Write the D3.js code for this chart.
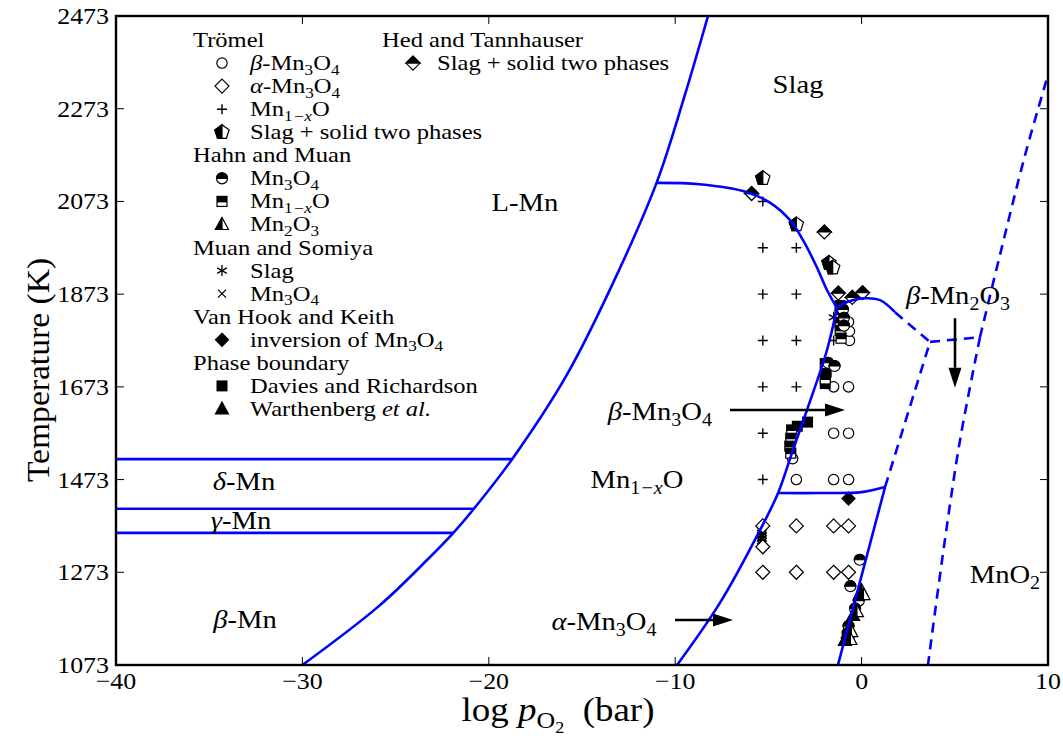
<!DOCTYPE html>
<html><head><meta charset="utf-8">
<script src="https://cdn.jsdelivr.net/npm/d3@7"></script>
<style>body{margin:0;background:#fff} text,tspan{font-family:"Liberation Serif","DejaVu Serif",serif;fill:#000}</style>
</head><body><svg id="c" width="1063" height="740"></svg>
<script>
// ---------- axes ----------
const xTicks = [-40,-30,-20,-10,0,10];
const yTicks = [1073,1273,1473,1673,1873,2073,2273,2473];

// ---------- phase boundaries [log pO2, T] ----------
const mnMnOBoundary = [[-30.0,1073],[-25.9,1200],[-23.3,1300],[-21.9,1358],[-20.8,1410],[-18.75,1517],[-15.8,1700],[-13.3,1900],[-11.0,2113],[-9.5,2300],[-8.24,2473]];
const deltaLiquidLine = [[-40,1517],[-18.75,1517]];
const gammaDeltaLine = [[-40,1410],[-20.8,1410]];
const betaGammaLine = [[-40,1358],[-21.9,1358]];
const lMnSlagBoundary = [[-10.98,2113],[-8.7,2110],[-6.15,2093],[-4.9,2070],[-3.85,2033],[-3.15,1990],[-2.4,1931],[-1.86,1882],[-1.32,1843]];
const mnOMn3O4Boundary = [[-1.32,1843],[-1.86,1752],[-2.93,1623],[-3.68,1537],[-4.48,1444],[-5.45,1364],[-7.6,1207],[-9.9,1073]];
const alphaBetaMn3O4 = [[-4.48,1444],[-2.2,1444],[0,1446],[1.26,1457]];
const mn3O4Mn2O3Boundary = [[-1.27,1073],[1.26,1457]];
const slagMn3O4Boundary = [[-1.32,1843],[-0.78,1856],[0.08,1864],[0.99,1860],[1.79,1834]];
// dashed (estimated) boundaries
const slagMn2O3Dashed = [[1.79,1834],[3.67,1770]];
const mn2O3TopDashed = [[3.67,1770],[6.35,1780]];
const slagMnO2Dashed = [[6.35,1780],[7.42,1957],[8.77,2173],[10,2346]];
const mnO2Mn2O3Dashed = [[6.35,1780],[5.28,1558],[4.47,1343],[3.56,1073]];
const mn3O4Mn2O3Dashed = [[1.26,1457],[3.67,1770]];

// ---------- experimental points [log pO2, T] ----------
const tromelBetaMn3O4 = [[-1.5,1673],[-0.7,1673],[-1.5,1573],[-0.7,1573],[-3.5,1473],[-1.5,1473],[-0.7,1473],[-0.65,1773],[-0.65,1793],[-0.7,1813],[-3.7,1518]];
const tromelAlphaMn3O4 = [[-3.5,1373],[-1.5,1373],[-0.7,1373],[-5.3,1373],[-5.3,1328],[-5.3,1273],[-3.5,1273],[-1.5,1273],[-0.7,1273]];
const tromelMn1xO = [[-5.3,2073],[-5.3,1973],[-3.5,1973],[-5.3,1873],[-3.5,1873],[-5.3,1773],[-3.5,1773],[-1.5,1773],[-5.3,1673],[-3.5,1673],[-5.3,1573],[-5.3,1473]];
const tromelSlagSolid = [[-5.3,2123],[-3.5,2023],[-1.75,1940],[-1.55,1930]];
const hahnMn3O4 = [[-0.1,1300],[-0.6,1243],[-0.15,1212],[-0.35,1195],[-0.7,1157],[-0.75,1142],[-1.0,1840],[-0.95,1822],[-0.95,1805],[-1.8,1725],[-1.45,1718]];
const hahnMn1xO = [[-3.75,1580],[-3.8,1562],[-3.85,1545],[-3.8,1530],[-1.95,1723],[-1.95,1690],[-1.15,1848],[-1.15,1830],[-1.15,1812],[-1.15,1795],[-1.1,1778]];
const hahnMn2O3 = [[0.0,1233],[0.1,1225],[-0.25,1188],[-0.55,1145],[-0.6,1128]];
const muanSlag = [[-5.35,1334],[-5.35,1340],[-5.35,1346],[-5.35,1352],[-5.35,1358],[-5.35,1364],[-1.5,1823]];
const muanMn3O4 = [[-5.35,1337],[-5.35,1343],[-5.35,1349],[-5.35,1355],[-5.35,1361],[-5.35,1367]];
const vanHookInversion = [[-0.7,1432]];
const hedSlagSolid = [[-5.9,2090],[-2.0,2007],[-1.25,1875],[-0.5,1866],[0.05,1876]];
const daviesBoundary = [[-2.9,1597],[-3.45,1588],[-1.95,1680],[-1.9,1705]];
const warthBoundary = [[-0.1,1225],[-0.45,1180],[-0.75,1142],[-0.9,1126]];

// ---------- annotations ----------
const regionLabels = [
  ["Slag",-3.41,2324],["L-Mn",-18.06,2070],["*β*-Mn_{2}O_{3}",5.17,1869],
  ["*β*-Mn_{3}O_{4}",-10.82,1619],["Mn_{1*−x*}O",-12.05,1472],["*δ*-Mn",-33.13,1468],
  ["*γ*-Mn",-33.29,1384],["*β*-Mn",-33.08,1170],["*α*-Mn_{3}O_{4}",-13.82,1166],["MnO_{2}",7.69,1267]
];
const arrows = [[5.01,1821,5.01,1671],[-7.06,1623,-0.89,1623],[-10.01,1170,-6.9,1170]];

const legendCol1 = [
  {title:"Trömel"},{m:"circle",t:"*β*-Mn_{3}O_{4}"},{m:"diamond",t:"*α*-Mn_{3}O_{4}"},{m:"plus",t:"Mn_{1*−x*}O"},{m:"pentHalf",t:"Slag + solid two phases"},
  {title:"Hahn and Muan"},{m:"circleTop",t:"Mn_{3}O_{4}"},{m:"squareTop",t:"Mn_{1*−x*}O"},{m:"triLeft",t:"Mn_{2}O_{3}"},
  {title:"Muan and Somiya"},{m:"asterisk",t:"Slag"},{m:"cross",t:"Mn_{3}O_{4}"},
  {title:"Van Hook and Keith"},{m:"diamondFilled",t:"inversion of Mn_{3}O_{4}"},
  {title:"Phase boundary"},{m:"square",t:"Davies and Richardson"},{m:"triangle",t:"Warthenberg *et al.*"}
];
const legendCol2 = [{title:"Hed and Tannhauser"},{m:"diamondTop",t:"Slag + solid two phases"}];

// ---------- drawing ----------
const FONT = "Liberation Serif, DejaVu Serif, serif";
const svg = d3.select("#c");
const X = d3.scaleLinear().domain([-40,10]).range([116,1048]);
const Y = d3.scaleLinear().domain([1073,2473]).range([665,16]);
const fmt = v => (v<0?"−":"")+Math.abs(v);

function parseRich(s){
  const segs=[]; let lvl=0, it=false, buf="";
  function flush(){ if(buf){segs.push({t:buf,it,lvl}); buf="";} }
  for(let i=0;i<s.length;i++){
    const c=s[i];
    if(c==="*"){flush(); it=!it;}
    else if(c==="_" && s[i+1]==="{"){flush(); lvl++; i++;}
    else if(c==="}" && lvl>0){flush(); lvl--;}
    else buf+=c;
  }
  flush(); return segs;
}
// rich text: x,y baseline position, f font size, sx horizontal stretch, optional rotation
function rich(parent, x, y, s, f, anchor, sx, rot){
  const t = parent.append("text").attr("x",0).attr("y",0)
    .attr("transform",`translate(${x},${y})${rot?` rotate(${rot})`:""} scale(${sx||1},1)`)
    .attr("font-size",f).attr("font-family",FONT).attr("text-anchor",anchor||"start");
  let cur=0;
  const off = l => l===0?0:(l===1?0.22*f:0.22*f+0.14*f);
  parseRich(s).forEach(sg=>{
    const o=off(sg.lvl);
    t.append("tspan").attr("dy",o-cur).attr("font-family",FONT).attr("font-size",f*Math.pow(0.7,sg.lvl)).attr("font-style",sg.it?"italic":"normal").text(sg.t);
    cur=o;
  });
  return t;
}

function marker(g,type){
  const W="#fff",B="#000",sw=1.2;
  const shape=(d,fill)=>g.append("path").attr("d",d).attr("fill",fill).attr("stroke",B).attr("stroke-width",sw).attr("stroke-linejoin","miter");
  switch(type){
    case "circle": g.append("circle").attr("r",5.2).attr("fill",W).attr("stroke",B).attr("stroke-width",sw); break;
    case "diamond": shape("M0,-7L7,0L0,7L-7,0Z",W); break;
    case "diamondFilled": shape("M0,-6.5L6.5,0L0,6.5L-6.5,0Z",B); break;
    case "diamondTop": shape("M0,-7L7,0L0,7L-7,0Z",W); shape("M-7,0L0,-7L7,0Z",B); break;
    case "plus": g.append("path").attr("d","M-5,0H5M0,-5V5").attr("stroke",B).attr("stroke-width",1.4); break;
    case "cross": g.append("path").attr("d","M-4,-4L4,4M-4,4L4,-4").attr("stroke",B).attr("stroke-width",1.3); break;
    case "asterisk": g.append("path").attr("d","M0,-5.5V5.5M-4.8,-2.75L4.8,2.75M-4.8,2.75L4.8,-2.75").attr("stroke",B).attr("stroke-width",1.3); break;
    case "circleTop": g.append("circle").attr("r",5.5).attr("fill",W).attr("stroke",B).attr("stroke-width",sw); shape("M-5.5,0A5.5,5.5 0 0 1 5.5,0Z",B); break;
    case "squareTop": g.append("rect").attr("x",-5).attr("y",-5).attr("width",10).attr("height",10).attr("fill",W).attr("stroke",B).attr("stroke-width",sw);
                      g.append("rect").attr("x",-5).attr("y",-5).attr("width",10).attr("height",6).attr("fill",B); break;
    case "square": g.append("rect").attr("x",-5.5).attr("y",-5.5).attr("width",11).attr("height",11).attr("fill",B); break;
    case "triangle": shape("M0,-7L6.5,5L-6.5,5Z",B); break;
    case "triLeft": shape("M0,-7L6.5,5L-6.5,5Z",W); shape("M0,-7L-6.5,5L0,5Z",B); break;
    case "pentHalf": {
      const r=7.5, p=[-90,-18,54,126,198].map(a=>[r*Math.cos(a*Math.PI/180), r*Math.sin(a*Math.PI/180)]);
      shape("M"+p.map(q=>q.join(",")).join("L")+"Z",W);
      shape(`M${p[0]}L${p[4]}L${p[3]}L0,${p[3][1]}Z`,B); break;
    }
  }
}

// clip
svg.append("clipPath").attr("id","clip").append("rect").attr("x",116).attr("y",16).attr("width",932).attr("height",649);
const plot = svg.append("g").attr("clip-path","url(#clip)");

// markers
const series = [
  [muanMn3O4,"cross"],[muanSlag,"asterisk"],[tromelAlphaMn3O4,"diamond"],[tromelBetaMn3O4,"circle"],
  [tromelMn1xO,"plus"],[tromelSlagSolid,"pentHalf"],[hedSlagSolid,"diamondTop"],[daviesBoundary,"square"],
  [hahnMn1xO,"squareTop"],[hahnMn3O4,"circleTop"],[warthBoundary,"triangle"],[hahnMn2O3,"triLeft"],[vanHookInversion,"diamondFilled"]
];
series.forEach(([data,type])=>{
  plot.selectAll(null).data(data).enter().append("g")
    .attr("transform",d=>`translate(${X(d[0])},${Y(d[1])})`)
    .each(function(){ marker(d3.select(this),type); });
});

// boundaries
const line = d3.line().x(d=>X(d[0])).y(d=>Y(d[1])).curve(d3.curveCatmullRom.alpha(0.5));
[mnMnOBoundary,deltaLiquidLine,gammaDeltaLine,betaGammaLine,lMnSlagBoundary,mnOMn3O4Boundary,alphaBetaMn3O4,mn3O4Mn2O3Boundary,slagMn3O4Boundary]
  .forEach(d=>plot.append("path").attr("d",line(d)).attr("fill","none").attr("stroke","#0000ff").attr("stroke-width",2.6));
[slagMn2O3Dashed,mn2O3TopDashed,slagMnO2Dashed,mnO2Mn2O3Dashed,mn3O4Mn2O3Dashed]
  .forEach(d=>plot.append("path").attr("d",line(d)).attr("fill","none").attr("stroke","#0000ff").attr("stroke-width",2.6).attr("stroke-dasharray","10,7"));

// arrows
arrows.forEach(([x1,t1,x2,t2])=>{
  const a=[X(x1),Y(t1)], b=[X(x2),Y(t2)];
  const dx=b[0]-a[0], dy=b[1]-a[1], L=Math.hypot(dx,dy), ux=dx/L, uy=dy/L, hl=20, hw=6.5;
  const base=[b[0]-ux*hl,b[1]-uy*hl];
  svg.append("line").attr("x1",a[0]).attr("y1",a[1]).attr("x2",base[0]).attr("y2",base[1]).attr("stroke","#000").attr("stroke-width",2.6);
  svg.append("path").attr("d",`M${b[0]},${b[1]}L${base[0]-uy*hw},${base[1]+ux*hw}L${base[0]+uy*hw},${base[1]-ux*hw}Z`).attr("fill","#000");
});

// region labels
regionLabels.forEach(([s,x,t])=>rich(svg,X(x),Y(t)+8,s,26,"middle",1.1));

// frame & ticks
svg.append("rect").attr("x",116).attr("y",16).attr("width",932).attr("height",649).attr("fill","none").attr("stroke","#000").attr("stroke-width",2.4);
xTicks.forEach(v=>{
  svg.append("line").attr("x1",X(v)).attr("x2",X(v)).attr("y1",665).attr("y2",657).attr("stroke","#000").attr("stroke-width",1);
  svg.append("line").attr("x1",X(v)).attr("x2",X(v)).attr("y1",16).attr("y2",24).attr("stroke","#000").attr("stroke-width",1);
  rich(svg,X(v),689,fmt(v),24,"middle",1.08);
});
yTicks.forEach(v=>{
  svg.append("line").attr("x1",116).attr("x2",124).attr("y1",Y(v)).attr("y2",Y(v)).attr("stroke","#000").attr("stroke-width",1);
  svg.append("line").attr("x1",1048).attr("x2",1040).attr("y1",Y(v)).attr("y2",Y(v)).attr("stroke","#000").attr("stroke-width",1);
  rich(svg,109,Y(v)+8,fmt(v),24,"end",1.08);
});
// axis titles
rich(svg,558,721,"log *p*_{O_{2}}\u2002(bar)",33,"middle",1.12);
rich(svg,49,370,"Temperature (K)",32,"middle",1.05,-90);

// legend
function legend(items,hx,mx,tx){
  items.forEach((it,i)=>{
    const cy=40+i*23.06;
    if(it.title){ rich(svg,hx,cy+7,it.title,21,"start",1.17); }
    else { const g=svg.append("g").attr("transform",`translate(${mx},${cy})`); marker(g,it.m); rich(svg,tx,cy+7,it.t,21,"start",1.17); }
  });
}
legend(legendCol1,193,222,250);
legend(legendCol2,382,413,437);
</script></body></html>
